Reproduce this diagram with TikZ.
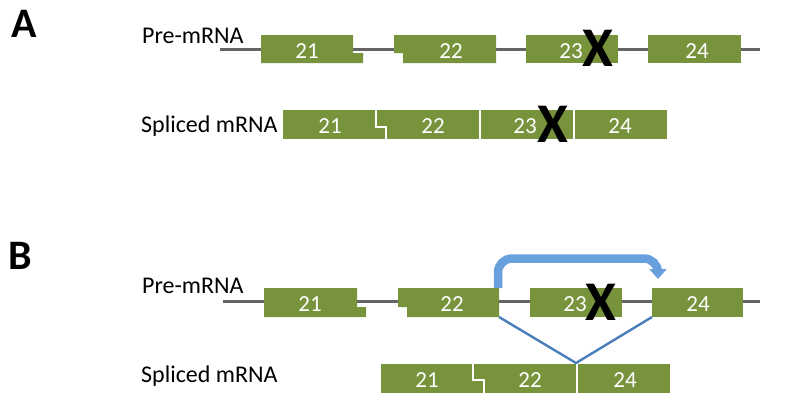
\documentclass[tikz,border=0pt]{standalone}
\usepackage{fontspec}
\setmainfont{Carlito}
\usetikzlibrary{arrows.meta}
\definecolor{exon}{RGB}{119,147,60}
\definecolor{intron}{RGB}{100,100,100}
\definecolor{arrowblue}{RGB}{104,160,222}
\definecolor{splice}{RGB}{74,126,187}
\tikzset{
  exonfill/.style={fill=exon},
  intronline/.style={draw=intron, line width=3pt},
  num/.style={text=white, font=\fontsize{23}{23}\selectfont, inner sep=0pt},
  lbl/.style={font=\fontsize{24}{24}\selectfont, inner sep=0pt, anchor=base west},
  panel/.style={font=\fontsize{42}{42}\selectfont\bfseries, inner sep=0pt},
  xmark/.style={font=\fontsize{56}{56}\selectfont\bfseries, inner sep=0pt},
  sep/.style={draw=white, line width=1.4pt},
  splicel/.style={draw=splice, line width=2.4pt},
}
\begin{document}
\begin{tikzpicture}[x=1pt,y=-1pt]
\useasboundingbox (0,0) rectangle (800,405);
% panel labels
\node[panel] (pA) at (24,24) {A};
\node[panel] (pB) at (20,256) {B};
% ---------- A pre-mRNA
\node[lbl] (preA) at (142,43) {Pre-mRNA};
\draw[intronline] (220,49) -- (760,49);
\fill[exonfill] (261,35) -- (353,35) -- (353,53) -- (363,53) -- (363,63) -- (261,63) -- cycle;
\fill[exonfill] (394,35) -- (496,35) -- (496,63) -- (403,63) -- (403,53) -- (394,53) -- cycle;
\fill[exonfill] (526,35) rectangle (618,63);
\fill[exonfill] (648,35) rectangle (741,63);
\node[num] (a21) at (307,51) {21};
\node[num] (a22) at (451,51) {22};
\node[num] (a23) at (571,51) {23};
\node[num] (a24) at (697,51) {24};
\node[xmark] (ax1) at (598,48) {X};
% ---------- A spliced
\node[lbl] (splA) at (141,132) {Spliced mRNA};
\fill[exonfill] (283,110) rectangle (667,139);
\draw[sep] (376,110) -- (376,127) -- (386,127) -- (386,139);
\draw[sep] (480,110) -- (480,139);
\draw[sep] (574,110) -- (574,139);
\node[num] (s21) at (330,126) {21};
\node[num] (s22) at (433,126) {22};
\node[num] (s23) at (525,126) {23};
\node[num] (s24) at (620,126) {24};
\node[xmark] (ax2) at (553,124) {X};
% ---------- B pre-mRNA
\node[lbl] (preB) at (142,293) {Pre-mRNA};
\draw[intronline] (223,301) -- (760,301);
\fill[exonfill] (264,288) -- (357,288) -- (357,307) -- (366,307) -- (366,317) -- (264,317) -- cycle;
\fill[exonfill] (398,288) -- (499,288) -- (499,317) -- (407,317) -- (407,307) -- (398,307) -- cycle;
\fill[exonfill] (530,288) rectangle (622,317);
\fill[exonfill] (652,288) rectangle (743,317);
\node[num] (b21) at (310,304) {21};
\node[num] (b22) at (452,304) {22};
\node[num] (b23) at (575,304) {23};
\node[num] (b24) at (698,304) {24};
\node[xmark] (bx1) at (601,302) {X};
% skip arrow
\coordinate (arrS) at (498,288);
\coordinate (arrE) at (658,279);
\draw[arrowblue, line width=8.5pt, rounded corners=14pt,
      -{Triangle[width=17pt,length=10pt]}]
  (arrS) -- (498,258.5) -- (658,258.5) -- (arrE);
% splice lines
\coordinate (e22r) at (499,317);
\coordinate (e24l) at (652,317);
\coordinate (apex) at (576,363);
\draw[splicel] (e22r) -- (apex) -- (e24l);
% ---------- B spliced
\node[lbl] (splB) at (141,382) {Spliced mRNA};
\fill[exonfill] (381,364) rectangle (670,393);
\draw[sep] (473,364) -- (473,380) -- (484,380) -- (484,393);
\draw[sep] (577,364) -- (577,393);
\node[num] (t21) at (427,380) {21};
\node[num] (t22) at (530,380) {22};
\node[num] (t24) at (625,380) {24};
\end{tikzpicture}
\end{document}
